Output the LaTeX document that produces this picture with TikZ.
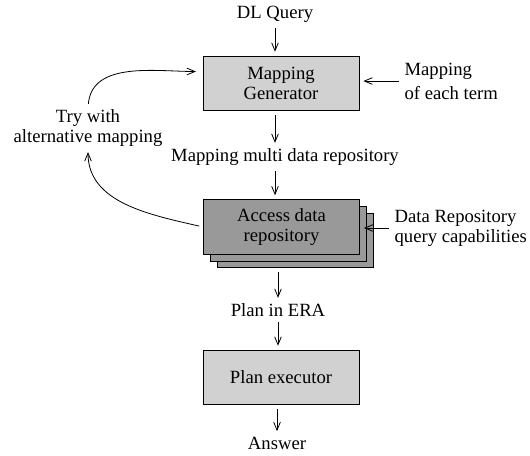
\documentclass[tikz,border=0pt]{standalone}
\usepackage{fontspec}
\setmainfont{Liberation Serif}
\usepackage{xcolor}
\definecolor{boxlight}{gray}{0.82}
\definecolor{boxdark}{gray}{0.6}
\usetikzlibrary{arrows.meta, positioning, calc}

\begin{document}
\begin{tikzpicture}[x=0.75pt, y=-0.75pt,
  font=\fontsize{14}{15}\selectfont,
  flow/.style={-{Straight Barb[length=6pt,width=5pt]}, line width=0.6pt,
               shorten <=3pt, shorten >=3pt},
  stage/.style={draw, line width=0.6pt, minimum width=117pt, minimum height=41pt,
                align=center, inner sep=0pt},
  note/.style={align=center, inner sep=1pt}]
  \useasboundingbox (0,0) rectangle (530,455);

  % Mapping stage
  \node[note] (query) at (275,14) {DL Query};
  \node[stage, fill=boxlight] (mapgen) at (281,83.5) {Mapping\\Generator};
  \node[note, align=left, anchor=west] (term) at (403,81) {Mapping\\[3pt]of each term};
  \node[note] (trymap) at (88,128) {Try with\\alternative mapping};
  \node[note] (multi) at (285,157) {Mapping multi data repository};

  % Access stack
  \node[stage, fill=boxdark] (acc3) at (295.5,240.5) {};
  \node[stage, fill=boxdark] (acc2) at (288.5,234) {};
  \node[stage, fill=boxdark] (access) at (281.5,227) {Access data\\repository};
  \node[note, align=left, anchor=west] (caps) at (393,228) {Data Repository\\query capabilities};

  % Execution
  \node[note] (era) at (278,310) {Plan in ERA};
  \node[stage, fill=boxlight] (exec) at (281,377.5) {Plan executor};
  \node[note] (answer) at (277,443) {Answer};

  % Main flow
  \draw[flow] (query.south) -- (query.south |- mapgen.north);
  \draw[flow] (query.south |- mapgen.south) -- (query.south |- multi.north);
  \draw[flow] (query.south |- multi.south) -- (query.south |- access.north);
  \draw[flow] (era.north |- acc3.south) -- (era.north);
  \draw[flow] (era.south) -- (era.south |- exec.north);
  \draw[flow] (answer.north |- exec.south) -- (answer.north);

  % Inputs
  \draw[flow] (term.west) -- (term.west -| mapgen.east);
  \draw[flow] (caps.west) -- (caps.west -| access.east);

  % Retry loop
  \draw[flow] (access.west) to[out=167, in=-90] (trymap.south);
  \draw[flow, shorten >=5pt] (trymap.north) to[out=85, in=180] ([yshift=9pt]mapgen.west);
\end{tikzpicture}
\end{document}
